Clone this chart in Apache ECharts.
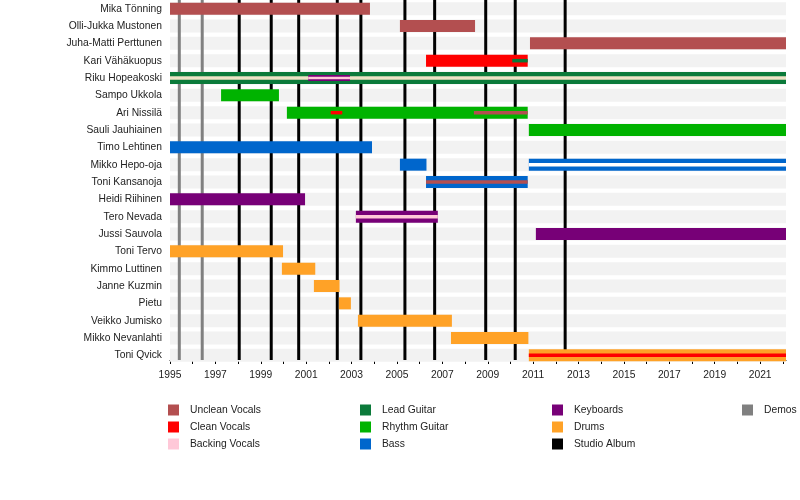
<!DOCTYPE html>
<html>
<head>
<meta charset="utf-8">
<script src="https://cdn.jsdelivr.net/npm/echarts@6/dist/echarts.min.js"></script>
<style>
  html, body { margin: 0; padding: 0; background: #fff; }
  #chart { width: 800px; height: 500px; }
</style>
</head>
<body>
<div id="chart"></div>
<script>
// band members, top to bottom
const members = [
  'Mika Tönning', 'Olli-Jukka Mustonen', 'Juha-Matti Perttunen', 'Kari Vähäkuopus',
  'Riku Hopeakoski', 'Sampo Ukkola', 'Ari Nissilä', 'Sauli Jauhiainen', 'Timo Lehtinen',
  'Mikko Hepo-oja', 'Toni Kansanoja', 'Heidi Riihinen', 'Tero Nevada', 'Jussi Sauvola',
  'Toni Tervo', 'Kimmo Luttinen', 'Janne Kuzmin', 'Pietu', 'Veikko Jumisko',
  'Mikko Nevanlahti', 'Toni Qvick'
]

const startYear = 1995
const endYear = 2022.14

// release dates (decimal years)
const studioAlbums = [1998.05, 1999.46, 2000.67, 2002.37, 2003.41, 2005.35, 2006.66, 2008.91, 2010.21, 2012.41]
const demos = [1995.41, 1996.42]

// [member, role, from, to, bar kind]
const periods = [
  ['Mika Tönning', 'Unclean Vocals', 1995, 2003.81, 'main'],
  ['Olli-Jukka Mustonen', 'Unclean Vocals', 2005.13, 2008.44, 'main'],
  ['Juha-Matti Perttunen', 'Unclean Vocals', 2010.86, endYear, 'main'],
  ['Kari Vähäkuopus', 'Clean Vocals', 2006.28, 2010.76, 'main'],
  ['Kari Vähäkuopus', 'Lead Guitar', 2010.08, 2010.76, 'thin'],
  ['Riku Hopeakoski', 'Lead Guitar', 1995, endYear, 'main'],
  ['Riku Hopeakoski', 'stripe-beige', 1995, endYear, 'thin'],
  ['Riku Hopeakoski', 'Keyboards', 2001.09, 2002.93, 'mid'],
  ['Riku Hopeakoski', 'Backing Vocals', 2001.09, 2002.93, 'hair'],
  ['Sampo Ukkola', 'Rhythm Guitar', 1997.25, 1999.8, 'main'],
  ['Ari Nissilä', 'Rhythm Guitar', 2000.15, 2010.76, 'main'],
  ['Ari Nissilä', 'Clean Vocals', 2002.08, 2002.59, 'thin'],
  ['Ari Nissilä', 'Unclean Vocals', 2008.39, 2010.76, 'thin'],
  ['Sauli Jauhiainen', 'Rhythm Guitar', 2010.81, endYear, 'main'],
  ['Timo Lehtinen', 'Bass', 1995, 2003.9, 'main'],
  ['Mikko Hepo-oja', 'Bass', 2005.13, 2006.3, 'main'],
  ['Mikko Hepo-oja', 'Bass', 2010.81, endYear, 'main'],
  ['Mikko Hepo-oja', 'stripe-white', 2010.81, endYear, 'thin'],
  ['Toni Kansanoja', 'Bass', 2006.28, 2010.76, 'main'],
  ['Toni Kansanoja', 'Unclean Vocals', 2006.28, 2010.76, 'thin'],
  ['Heidi Riihinen', 'Keyboards', 1995, 2000.95, 'main'],
  ['Tero Nevada', 'Keyboards', 2003.19, 2006.8, 'main'],
  ['Tero Nevada', 'Backing Vocals', 2003.19, 2006.8, 'thin'],
  ['Jussi Sauvola', 'Keyboards', 2011.12, endYear, 'main'],
  ['Toni Tervo', 'Drums', 1995, 1999.98, 'main'],
  ['Kimmo Luttinen', 'Drums', 1999.93, 2001.4, 'main'],
  ['Janne Kuzmin', 'Drums', 2001.34, 2002.47, 'main'],
  ['Pietu', 'Drums', 2002.44, 2002.97, 'main'],
  ['Veikko Jumisko', 'Drums', 2003.28, 2007.42, 'main'],
  ['Mikko Nevanlahti', 'Drums', 2007.38, 2010.79, 'main'],
  ['Toni Qvick', 'Drums', 2010.81, endYear, 'main'],
  ['Toni Qvick', 'Clean Vocals', 2010.81, endYear, 'thin']
]

const legendColumns = [
  ['Unclean Vocals', 'Clean Vocals', 'Backing Vocals'],
  ['Lead Guitar', 'Rhythm Guitar', 'Bass'],
  ['Keyboards', 'Drums', 'Studio Album'],
  ['Demos']
]

const roleColors = {
  'Unclean Vocals': '#b34f50',
  'Clean Vocals': '#ff0000',
  'Backing Vocals': '#ffc8d8',
  'Lead Guitar': '#0b7a3a',
  'Rhythm Guitar': '#00b300',
  'Bass': '#0066cc',
  'Keyboards': '#770077',
  'Drums': '#ffa227',
  'Studio Album': '#000000',
  'Demos': '#808080',
  'stripe-beige': '#eee3c6',
  'stripe-white': '#ffffff'
}

// drawing order, bottom to top
const roleOrder = ['Drums', 'Bass', 'Rhythm Guitar', 'Unclean Vocals', 'Clean Vocals',
  'Lead Guitar', 'stripe-beige', 'stripe-white', 'Keyboards', 'Backing Vocals']

const barHeights = { main: 12, mid: 6, thin: 3.5, hair: 2.5 }

const chart = echarts.init(document.getElementById('chart'))

// 竖线（专辑/小样）
function lineSeries(name, years) {
  return {
    type: 'custom',
    name: name,
    color: roleColors[name],
    itemStyle: { color: roleColors[name] },
    z: 2,
    silent: true,
    encode: { x: 0, y: 1 },
    data: years.map(y => [y, 0]),
    renderItem: (params, api) => {
      const x = api.coord([api.value(0), 0])[0]
      const cs = params.coordSys
      return {
        type: 'rect',
        shape: { x: x - 1.5, y: cs.y, width: 3, height: cs.height - 4 },
        style: { fill: roleColors[name] }
      }
    }
  }
}

function barSeries(role, i) {
  return {
    type: 'custom',
    name: role,
    color: roleColors[role],
    itemStyle: { color: roleColors[role] },
    z: 3 + i,
    encode: { x: [1, 2], y: 0 },
    data: periods.filter(p => p[1] === role)
      .map(p => [members.indexOf(p[0]), p[2], p[3], barHeights[p[4]]]),
    renderItem: (params, api) => {
      const row = api.value(0)
      const a = api.coord([api.value(1), row])
      const b = api.coord([api.value(2), row])
      const h = api.value(3)
      return {
        type: 'rect',
        shape: { x: a[0], y: a[1] - h / 2, width: b[0] - a[0], height: h },
        style: { fill: roleColors[role] }
      }
    }
  }
}

const backgroundSeries = {
  type: 'custom',
  name: 'rows',
  z: 1,
  silent: true,
  encode: { x: 0, y: 1 },
  data: members.map((m, i) => [startYear, i]),
  renderItem: (params, api) => {
    const cs = params.coordSys
    const p = api.coord([startYear, api.value(1)])
    return {
      type: 'rect',
      shape: { x: cs.x, y: p[1] - 6.5, width: cs.width, height: 13 },
      style: { fill: '#f2f2f2' }
    }
  }
}

const legendLeft = [168, 360, 552, 742]

const option = {
  animation: false,
  textStyle: { fontFamily: 'Liberation Sans, Arial, sans-serif' },
  grid: { left: 170, right: 14, top: -1.4, height: 365.4 },
  legend: legendColumns.map((col, i) => ({
    data: col,
    orient: 'vertical',
    left: legendLeft[i],
    top: 404.5,
    padding: 0,
    icon: 'rect',
    itemWidth: 11,
    itemHeight: 11,
    itemGap: 6,
    selectedMode: false,
    textStyle: { fontSize: 10.3, color: '#222', padding: [0, 0, 0, 6] }
  })),
  xAxis: {
    type: 'value',
    min: startYear,
    max: endYear,
    interval: 1,
    offset: -4,
    axisLine: { show: true, lineStyle: { color: '#000', width: 1 } },
    axisTick: { show: true, length: 4, lineStyle: { color: '#000' } },
    splitLine: { show: false },
    axisLabel: {
      fontSize: 10.3,
      color: '#222',
      margin: 10,
      showMaxLabel: false,
      formatter: (v) => (Math.round(v) === v && v % 2 === 1) ? String(v) : ''
    }
  },
  yAxis: {
    type: 'category',
    inverse: true,
    data: members,
    axisLine: { show: false },
    axisTick: { show: false },
    splitLine: { show: false },
    axisLabel: { fontSize: 10.3, color: '#222', margin: 8 }
  },
  series: [backgroundSeries, lineSeries('Demos', demos), lineSeries('Studio Album', studioAlbums)]
    .concat(roleOrder.map((r, i) => barSeries(r, i)))
}

chart.setOption(option)
</script>
</body>
</html>
